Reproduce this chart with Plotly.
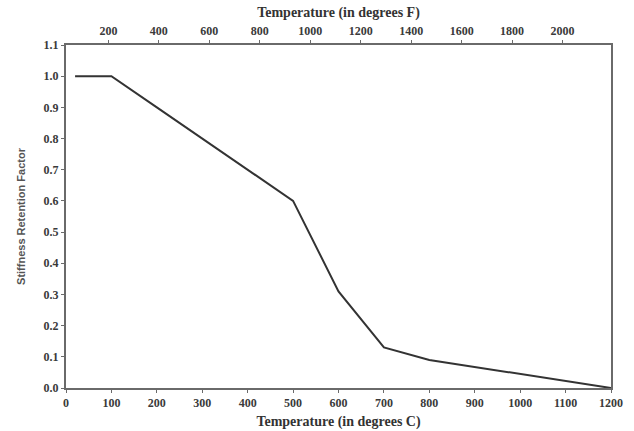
import plotly.graph_objects as go

temp_c = [20, 100, 200, 300, 400, 500, 600, 700, 800, 900, 1000, 1100, 1200]
stiffness = [1.0, 1.0, 0.9, 0.8, 0.7, 0.6, 0.31, 0.13, 0.09, 0.0675, 0.045, 0.0225, 0.0]
c_ticks = [0, 100, 200, 300, 400, 500, 600, 700, 800, 900, 1000, 1100, 1200]
f_ticks = [200, 400, 600, 800, 1000, 1200, 1400, 1600, 1800, 2000]
y_ticks = [0.0, 0.1, 0.2, 0.3, 0.4, 0.5, 0.6, 0.7, 0.8, 0.9, 1.0, 1.1]

serif = "Liberation Serif"
axis_col = "#6a6a6a"
tick_col = "#3a3a3a"

fig = go.Figure()
fig.add_trace(go.Scatter(x=temp_c, y=stiffness, mode="lines",
                         line=dict(color="#333333", width=2), showlegend=False,
                         hoverinfo="skip"))
fig.add_trace(go.Scatter(x=[32, 2192], y=[None, None], xaxis="x2", mode="lines",
                         showlegend=False, hoverinfo="skip"))

fig.update_layout(
    width=634, height=431,
    margin=dict(l=66, r=23, t=45, b=43, autoexpand=False),
    plot_bgcolor="white", paper_bgcolor="white",
    xaxis=dict(range=[0, 1200], tickvals=c_ticks, ticktext=[f"<b>{v}</b>" for v in c_ticks],
               showgrid=False, zeroline=False, showline=True, linecolor=axis_col, linewidth=2,
               ticks="outside", ticklen=3, tickcolor=axis_col, mirror=False, automargin=False,
               tickfont=dict(family=serif, size=12, color=tick_col),
               title=dict(text="<b>Temperature (in degrees C)</b>", standoff=7,
                          font=dict(family=serif, size=14, color="#333333"))),
    xaxis2=dict(range=[32, 2192], overlaying="x", side="top", tickvals=f_ticks,
                ticktext=[f"<b>{v}</b>" for v in f_ticks], automargin=False,
                showgrid=False, zeroline=False, showline=True, linecolor=axis_col, linewidth=2,
                ticks="outside", ticklen=3, tickcolor=axis_col,
                tickfont=dict(family=serif, size=12, color=tick_col),
                title=dict(text="<b>Temperature (in degrees F)</b>", standoff=3,
                           font=dict(family=serif, size=14, color="#333333"))),
    yaxis=dict(range=[0, 1.1], tickvals=y_ticks, ticktext=[f"<b>{v:.1f}</b>" for v in y_ticks],
               showgrid=False, zeroline=False, showline=True, linecolor=axis_col, linewidth=2,
               mirror=True, ticks="outside", ticklen=3, tickcolor=axis_col, automargin=False,
               tickfont=dict(family=serif, size=12, color=tick_col),
               title=dict(text="<b>Stiffness Retention Factor</b>", standoff=16,
                          font=dict(family="Liberation Sans", size=11, color="#555555"))),
)

fig.write_html("out.html")
